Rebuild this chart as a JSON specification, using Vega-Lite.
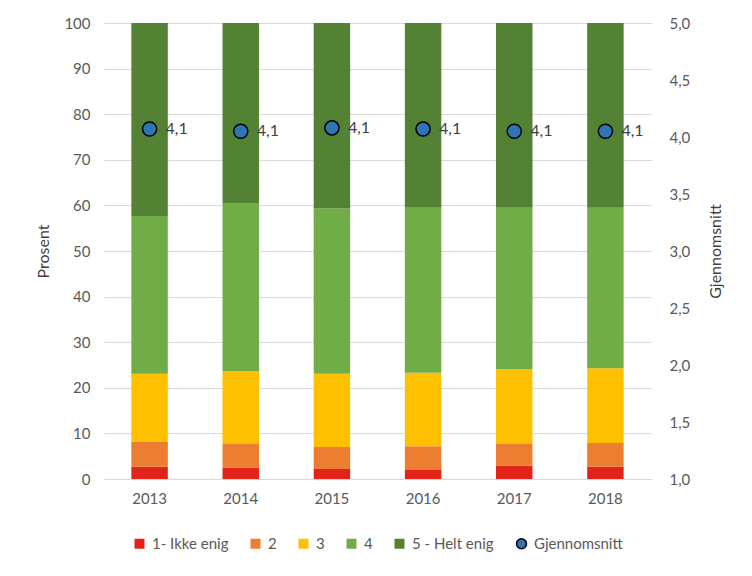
{
  "$schema": "https://vega.github.io/schema/vega-lite/v6.json",
  "width": 547,
  "height": 456,
  "autosize": {"type": "none"},
  "padding": {"left": 104, "top": 23, "right": 101, "bottom": 97},
  "background": "white",
  "config": {
    "font": "Lato",
    "view": {"stroke": null},
    "axis": {"labelFont": "Lato", "titleFont": "Lato", "labelColor": "#595959", "titleColor": "#404040", "labelFontSize": 15, "titleFontSize": 16, "titleFontWeight": "normal"},
    "legend": {"labelFont": "Lato"}
  },
  "layer": [
    {
      "data": {"values": [
        {"year": "2013", "cat": "1- Ikke enig", "k": 1, "pct": 2.7},
        {"year": "2013", "cat": "2", "k": 2, "pct": 5.5},
        {"year": "2013", "cat": "3", "k": 3, "pct": 14.9},
        {"year": "2013", "cat": "4", "k": 4, "pct": 34.6},
        {"year": "2013", "cat": "5 - Helt enig", "k": 5, "pct": 42.3},
        {"year": "2014", "cat": "1- Ikke enig", "k": 1, "pct": 2.5},
        {"year": "2014", "cat": "2", "k": 2, "pct": 5.2},
        {"year": "2014", "cat": "3", "k": 3, "pct": 16.0},
        {"year": "2014", "cat": "4", "k": 4, "pct": 36.8},
        {"year": "2014", "cat": "5 - Helt enig", "k": 5, "pct": 39.5},
        {"year": "2015", "cat": "1- Ikke enig", "k": 1, "pct": 2.2},
        {"year": "2015", "cat": "2", "k": 2, "pct": 4.8},
        {"year": "2015", "cat": "3", "k": 3, "pct": 16.1},
        {"year": "2015", "cat": "4", "k": 4, "pct": 36.2},
        {"year": "2015", "cat": "5 - Helt enig", "k": 5, "pct": 40.7},
        {"year": "2016", "cat": "1- Ikke enig", "k": 1, "pct": 2.0},
        {"year": "2016", "cat": "2", "k": 2, "pct": 5.2},
        {"year": "2016", "cat": "3", "k": 3, "pct": 16.1},
        {"year": "2016", "cat": "4", "k": 4, "pct": 36.2},
        {"year": "2016", "cat": "5 - Helt enig", "k": 5, "pct": 40.5},
        {"year": "2017", "cat": "1- Ikke enig", "k": 1, "pct": 2.9},
        {"year": "2017", "cat": "2", "k": 2, "pct": 4.8},
        {"year": "2017", "cat": "3", "k": 3, "pct": 16.4},
        {"year": "2017", "cat": "4", "k": 4, "pct": 35.4},
        {"year": "2017", "cat": "5 - Helt enig", "k": 5, "pct": 40.5},
        {"year": "2018", "cat": "1- Ikke enig", "k": 1, "pct": 2.7},
        {"year": "2018", "cat": "2", "k": 2, "pct": 5.2},
        {"year": "2018", "cat": "3", "k": 3, "pct": 16.4},
        {"year": "2018", "cat": "4", "k": 4, "pct": 35.2},
        {"year": "2018", "cat": "5 - Helt enig", "k": 5, "pct": 40.5}
      ]},
      "mark": {"type": "bar"},
      "encoding": {
        "x": {"field": "year", "type": "nominal", "scale": {"paddingInner": 0.6, "paddingOuter": 0.3},
              "axis": {"title": null, "labelAngle": 0, "domain": false, "ticks": false, "labelPadding": 12}},
        "y": {"field": "pct", "type": "quantitative", "aggregate": "sum", "stack": "zero",
              "scale": {"domain": [0, 100], "nice": false},
              "axis": {"title": "Prosent", "values": [0, 10, 20, 30, 40, 50, 60, 70, 80, 90, 100], "grid": true, "gridColor": "#d9d9d9", "domain": false, "ticks": false, "labelPadding": 14, "titlePadding": 12}},
        "color": {"field": "cat", "type": "nominal",
                  "scale": {"domain": ["1- Ikke enig", "2", "3", "4", "5 - Helt enig", "Gjennomsnitt"],
                            "range": ["#E2231A", "#ED7D31", "#FFC000", "#70AD47", "#548235", "#2E75B6"]},
                  "legend": {"orient": "none", "legendX": 28, "legendY": 513, "direction": "horizontal", "title": null,
                             "labelFontSize": 15, "labelColor": "#595959", "symbolSize": 100, "symbolType": "square",
                             "columnPadding": 19, "labelOffset": 5,
                             "encode": {"symbols": {"update": {
                               "shape": {"signal": "datum.value === 'Gjennomsnitt' ? 'circle' : 'square'"},
                               "stroke": {"signal": "datum.value === 'Gjennomsnitt' ? '#000000' : 'transparent'"},
                               "strokeWidth": {"signal": "datum.value === 'Gjennomsnitt' ? 1.5 : 0"}
                             }}}}},
        "order": {"field": "k", "type": "quantitative"}
      }
    },
    {
      "data": {"values": [
        {"year": "2013", "avg": 4.07, "lbl": "4,1"},
        {"year": "2014", "avg": 4.05, "lbl": "4,1"},
        {"year": "2015", "avg": 4.08, "lbl": "4,1"},
        {"year": "2016", "avg": 4.07, "lbl": "4,1"},
        {"year": "2017", "avg": 4.05, "lbl": "4,1"},
        {"year": "2018", "avg": 4.05, "lbl": "4,1"}
      ]},
      "layer": [
        {
          "mark": {"type": "point", "filled": true, "fill": "#2E75B6", "stroke": "#000000", "strokeWidth": 1.5, "size": 200, "opacity": 1},
          "encoding": {
            "x": {"field": "year", "type": "nominal"},
            "y": {"field": "avg", "type": "quantitative",
                  "scale": {"domain": [1, 5], "nice": false},
                  "axis": {"orient": "right", "title": "Gjennomsnitt", "titleAngle": 270, "values": [1, 1.5, 2, 2.5, 3, 3.5, 4, 4.5, 5],
                           "labelExpr": "replace(format(datum.value, '.1f'), '.', ',')",
                           "grid": false, "domain": false, "ticks": false, "labelPadding": 18, "titlePadding": 34}}
          }
        },
        {
          "mark": {"type": "text", "align": "left", "baseline": "middle", "dx": 16, "fontSize": 16, "color": "#404040", "font": "Lato"},
          "encoding": {
            "x": {"field": "year", "type": "nominal"},
            "y": {"field": "avg", "type": "quantitative"},
            "text": {"field": "lbl"}
          }
        }
      ]
    }
  ],
  "resolve": {"scale": {"y": "independent"}}
}
